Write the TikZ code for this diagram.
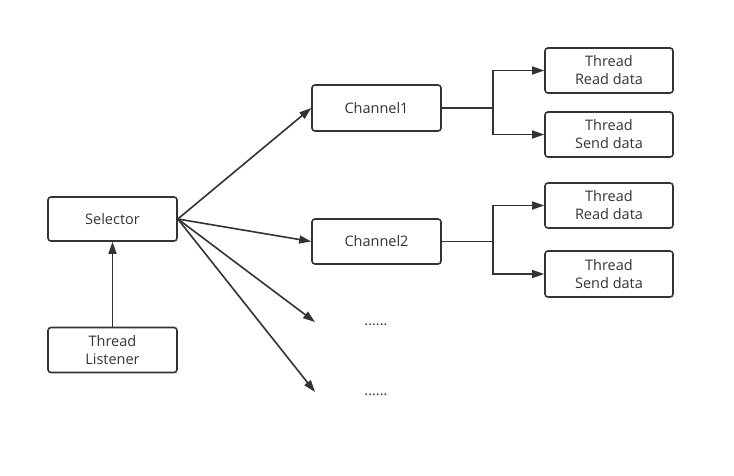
\documentclass[tikz,border=0pt]{standalone}
\usepackage{fontspec}
\setmainfont{Open Sans}
\usetikzlibrary{arrows.meta}
\definecolor{ink}{HTML}{333333}
\begin{document}
\begin{tikzpicture}[x=1pt,y=-1pt,
  box/.style={draw=ink, line width=1.6pt, rounded corners=3pt, align=center, font=\fontsize{14.5}{18}\selectfont, text=ink, inner sep=0pt},
  arr/.style={draw=ink, line width=1.6pt, -{Triangle[length=12pt,width=8pt]}},
  ln/.style={draw=ink, line width=1.6pt}]
\useasboundingbox (0,0) rectangle (734,475);
\node[box, minimum width=129pt, minimum height=44pt] (sel) at (112.5,219) {Selector};
\node[box, minimum width=129pt, minimum height=45pt] (lis) at (112.5,350) {Thread\\Listener};
\node[box, minimum width=129pt, minimum height=46pt] (ch1) at (376.5,108) {Channel1};
\node[box, minimum width=129pt, minimum height=45pt] (ch2) at (376.5,241.5) {Channel2};
\node[box, minimum width=128pt, minimum height=45pt] (r1) at (609,70.5) {Thread\\Read data};
\node[box, minimum width=128pt, minimum height=45pt] (s1) at (609,134.5) {Thread\\Send data};
\node[box, minimum width=128pt, minimum height=45pt] (r2) at (609,205.5) {Thread\\Read data};
\node[box, minimum width=128pt, minimum height=46pt] (s2) at (609,274) {Thread\\Send data};
\coordinate (e3) at (315,322);
\coordinate (e4) at (315,392);
\node[font=\fontsize{14.5}{18}\selectfont, text=ink, inner sep=0pt] (d1) at (376,325) {......};
\node[font=\fontsize{14.5}{18}\selectfont, text=ink, inner sep=0pt] (d2) at (376,395) {......};
\coordinate (b1) at (493,108);
\coordinate (b2) at (493,241.5);
\draw[arr] (lis.north) -- (sel.south);
\draw[arr] (sel.east) -- (ch1.west);
\draw[arr] (sel.east) -- (ch2.west);
\draw[arr] (sel.east) -- (e3);
\draw[arr] (sel.east) -- (e4);
\draw[ln, line width=2.4pt] (ch1.east) -- (b1);
\draw[ln] (ch2.east) -- (b2);
\draw[arr] (b1) |- (r1.west);
\draw[arr] (b1) |- (s1.west);
\draw[arr] (b2) |- (r2.west);
\draw[arr] (b2) |- (s2.west);
\end{tikzpicture}
\end{document}
